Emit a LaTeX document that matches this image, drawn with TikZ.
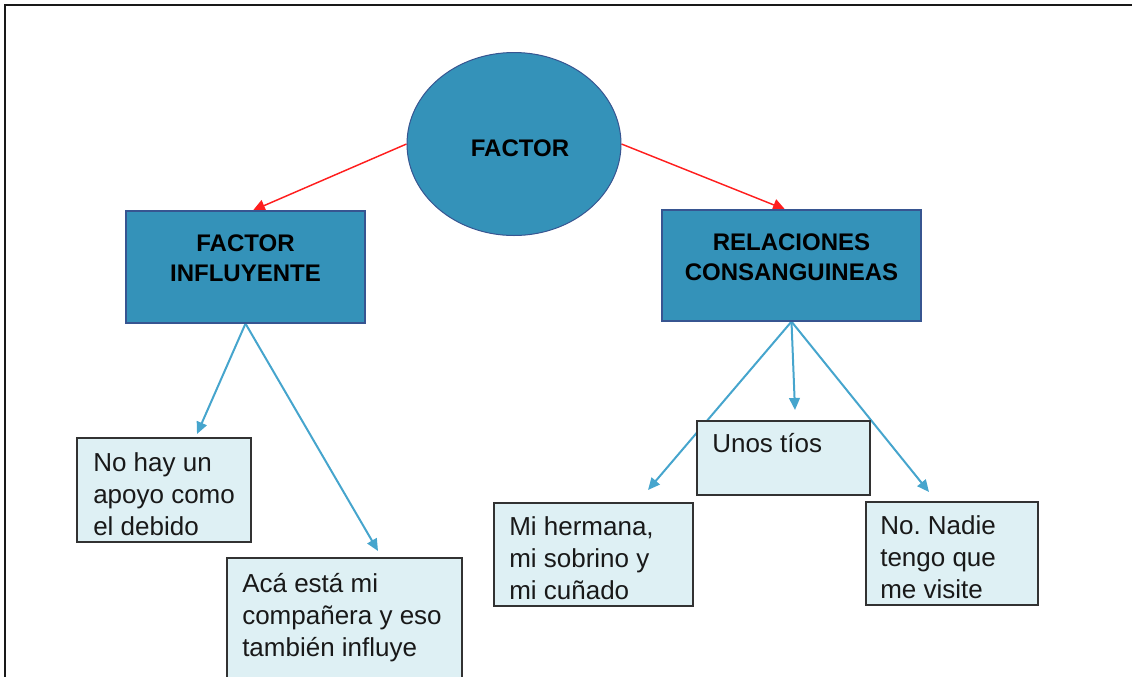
\documentclass[tikz,border=0pt]{standalone}
\usepackage{fontspec}
\setmainfont{Liberation Sans}
\usetikzlibrary{shapes.geometric,arrows.meta,calc}
\definecolor{mainblue}{RGB}{52,146,185}
\definecolor{mainborder}{RGB}{55,85,145}
\definecolor{lightfill}{RGB}{222,240,244}
\definecolor{lightborder}{RGB}{50,50,50}
\definecolor{arrowblue}{RGB}{70,165,205}
\definecolor{arrowred}{RGB}{255,30,30}
\definecolor{framecol}{RGB}{25,25,25}
\pgfdeclarelayer{bg}
\pgfsetlayers{bg,main}
\tikzset{
  topnode/.style={ellipse,fill=mainblue,draw=mainborder,line width=0.75pt,inner sep=0pt},
  catbox/.style={rectangle,fill=mainblue,draw=mainborder,line width=0.9pt,inner sep=0pt},
  leafbox/.style={rectangle,fill=lightfill,draw=lightborder,line width=1.5pt,inner sep=0pt},
  cattext/.style={font=\fontsize{18}{22.5}\selectfont\bfseries,align=center,anchor=base,inner sep=0pt},
  leaftext/.style={font=\fontsize{19.5}{24}\selectfont,align=left,anchor=base west,inner sep=0pt,text=black!90},
  redarrow/.style={draw=arrowred,line width=1.1pt,-{Triangle[length=9pt,width=9pt]}},
  bluearrow/.style={draw=arrowblue,line width=1.5pt,-{Triangle[length=9pt,width=8pt]}}
}
\begin{document}
\begin{tikzpicture}[x=0.75pt,y=-0.75pt]
\clip (0,0) rectangle (1132,676);
% frame
\draw[framecol,line width=1.8pt] (5,700) -- (5,5) -- (1150,5);
% top ellipse
\node[topnode,minimum width=160.5pt,minimum height=137.25pt] (e) at (514,144) {};
\node[cattext] (et) at ($(e.center)+(6,12)$) {FACTOR};
% category boxes (base anchor = baseline of last line)
\node[catbox,minimum width=179.25pt,minimum height=84pt] (fi) at (245.5,267) {};
\node[cattext] (fit) at ($(fi.north)+(0,71)$) {FACTOR\\INFLUYENTE};
\node[catbox,minimum width=194.25pt,minimum height=83.25pt] (rc) at (791.5,265.5) {};
\node[cattext] (rct) at ($(rc.north)+(0,71)$) {RELACIONES\\CONSANGUINEAS};
% leaf boxes
\node[leafbox,minimum width=130.5pt,minimum height=78pt] (nh) at (164,490) {};
\node[leaftext] (nht) at ($(nh.north west)+(17,98)$) {No hay un\\apoyo como\\el debido};
\node[leafbox,minimum width=176.25pt,minimum height=99pt] (ac) at (344.5,624) {};
\node[leaftext] (act) at ($(ac.north west)+(16,99)$) {Acá está mi\\compañera y eso\\también influye};
\node[leafbox,minimum width=149.25pt,minimum height=77.25pt] (mh) at (593.5,554.5) {};
\node[leaftext] (mht) at ($(mh.north west)+(16,97)$) {Mi hermana,\\mi sobrino y\\mi cuñado};
\node[leafbox,minimum width=129.75pt,minimum height=55.5pt] (ut) at (783.5,458) {};
\node[leaftext] (utt) at ($(ut.north west)+(16,32)$) {Unos tíos};
\node[leafbox,minimum width=129pt,minimum height=77.25pt] (nn) at (952,553.5) {};
\node[leaftext] (nnt) at ($(nn.north west)+(15,97)$) {No.\ Nadie\\tengo que\\me visite};
% arrow tips
\coordinate (t1) at (197,434);
\coordinate (t2) at (378,551);
\coordinate (t3) at (648,490);
\coordinate (t4) at (795,410);
\coordinate (t5) at (929,492);
\begin{pgfonlayer}{bg}
\draw[redarrow] (e.west) -- ($(fi.north)+(7.5,0)$);
\draw[redarrow] (e.east) -- ($(rc.north)+(-6.5,0)$);
\draw[bluearrow] (fi.south) -- (t1);
\draw[bluearrow] (fi.south) -- (t2);
\draw[bluearrow] (rc.south) -- (t3);
\draw[bluearrow] (rc.south) -- (t4);
\draw[bluearrow] (rc.south) -- (t5);
\end{pgfonlayer}
\end{tikzpicture}
\end{document}
